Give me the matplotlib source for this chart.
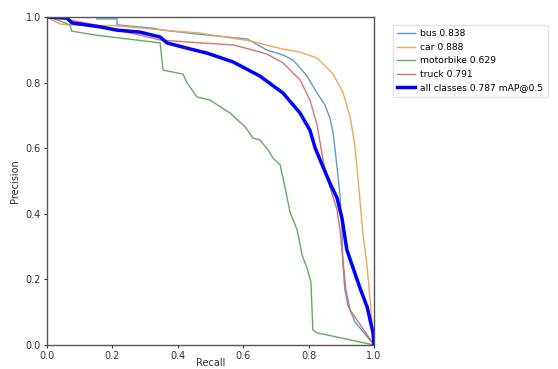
import matplotlib
matplotlib.use("Agg")
import matplotlib.pyplot as plt

# ---- data (recall, precision) ----
bus_r = [0, 0.153, 0.153, 0.214, 0.214, 0.324, 0.355, 0.459, 0.612, 0.673, 0.722, 0.752,
         0.774, 0.795, 0.826, 0.850, 0.865, 0.875, 0.887, 0.896, 0.902, 0.905, 0.911,
         0.920, 0.942, 1.0]
bus_p = [1.0, 1.0, 0.994, 0.994, 0.976, 0.966, 0.960, 0.948, 0.933, 0.899, 0.884, 0.869,
         0.845, 0.820, 0.768, 0.732, 0.692, 0.646, 0.543, 0.457, 0.351, 0.244, 0.168,
         0.122, 0.070, 0.0]

car_r = [0, 0.015, 0.040, 0.061, 0.214, 0.355, 0.468, 0.621, 0.722, 0.774, 0.826, 0.875,
         0.905, 0.927, 0.939, 0.948, 0.957, 0.966, 0.979, 0.988, 0.997, 1.0]
car_p = [1.0, 0.991, 0.979, 0.976, 0.973, 0.960, 0.951, 0.927, 0.902, 0.893, 0.875, 0.826,
         0.771, 0.695, 0.625, 0.543, 0.442, 0.341, 0.238, 0.137, 0.037, 0.0]

moto_r = [0, 0.024, 0.070, 0.076, 0.147, 0.346, 0.355, 0.416, 0.428, 0.459, 0.498, 0.560,
          0.606, 0.630, 0.651, 0.676, 0.691, 0.713, 0.731, 0.743, 0.765, 0.780, 0.795,
          0.807, 0.813, 0.826, 1.0]
moto_p = [1.0, 0.994, 0.976, 0.957, 0.945, 0.921, 0.838, 0.826, 0.799, 0.756, 0.747, 0.707,
          0.665, 0.631, 0.625, 0.595, 0.570, 0.549, 0.466, 0.405, 0.351, 0.274, 0.235,
          0.192, 0.046, 0.037, 0.0]

truck_r = [0, 0.070, 0.147, 0.214, 0.284, 0.346, 0.468, 0.569, 0.630, 0.673, 0.722, 0.774,
           0.804, 0.826, 0.844, 0.865, 0.887, 0.896, 0.905, 0.914, 0.927, 1.0]
truck_p = [1.0, 0.991, 0.976, 0.960, 0.945, 0.930, 0.921, 0.915, 0.899, 0.887, 0.860, 0.808,
           0.747, 0.671, 0.564, 0.482, 0.412, 0.351, 0.259, 0.168, 0.107, 0.0]

all_r = [0, 0.061, 0.076, 0.162, 0.214, 0.284, 0.346, 0.367, 0.428, 0.489, 0.569, 0.651,
         0.722, 0.774, 0.804, 0.820, 0.844, 0.865, 0.887, 0.902, 0.917, 0.936, 0.957,
         0.979, 0.997, 1.0]
all_p = [1.0, 0.997, 0.982, 0.970, 0.960, 0.954, 0.939, 0.921, 0.905, 0.890, 0.863, 0.820,
         0.768, 0.707, 0.655, 0.601, 0.543, 0.494, 0.448, 0.387, 0.290, 0.235, 0.174,
         0.116, 0.037, 0.0]

labels = ["bus 0.838", "car 0.888", "motorbike 0.629", "truck 0.791",
          "all classes 0.787 mAP@0.5"]

fig = plt.figure(figsize=(5.58, 3.69), dpi=100)
ax = fig.add_axes([47 / 558, 24 / 369, 327 / 558, 328 / 369])

ax.plot(bus_r, bus_p, lw=1, color="#5b9bd0", label=labels[0])
ax.plot(car_r, car_p, lw=1, color="#f5a455", label=labels[1])
ax.plot(moto_r, moto_p, lw=1, color="#5fae5f", label=labels[2])
ax.plot(truck_r, truck_p, lw=1, color="#d9706f", label=labels[3])
ax.plot(all_r, all_p, lw=2.5, color="blue", label=labels[4])

ax.set_xlim(0, 1)
ax.set_ylim(0, 1)
ax.set_xticks([0, 0.2, 0.4, 0.6, 0.8, 1.0])
ax.set_yticks([0, 0.2, 0.4, 0.6, 0.8, 1.0])
ax.tick_params(labelsize=7, length=2.5, width=0.8, colors="#333333", pad=2)
for s in ax.spines.values():
    s.set_color("#555555")
    s.set_linewidth(1.0)
ax.set_xlabel("Recall", fontsize=7, color="#333333", labelpad=-2)
ax.set_ylabel("Precision", fontsize=7, color="#333333", labelpad=4)

fig.legend(loc="upper left", bbox_to_anchor=(388 / 558, 1 - 20 / 369),
           bbox_transform=fig.transFigure, fontsize=6.6, frameon=True,
           handlelength=1.9, labelspacing=0.5, borderpad=0.5, handletextpad=0.6,
           fancybox=True, edgecolor="#dddddd")

fig.savefig("out.png", dpi=100)
